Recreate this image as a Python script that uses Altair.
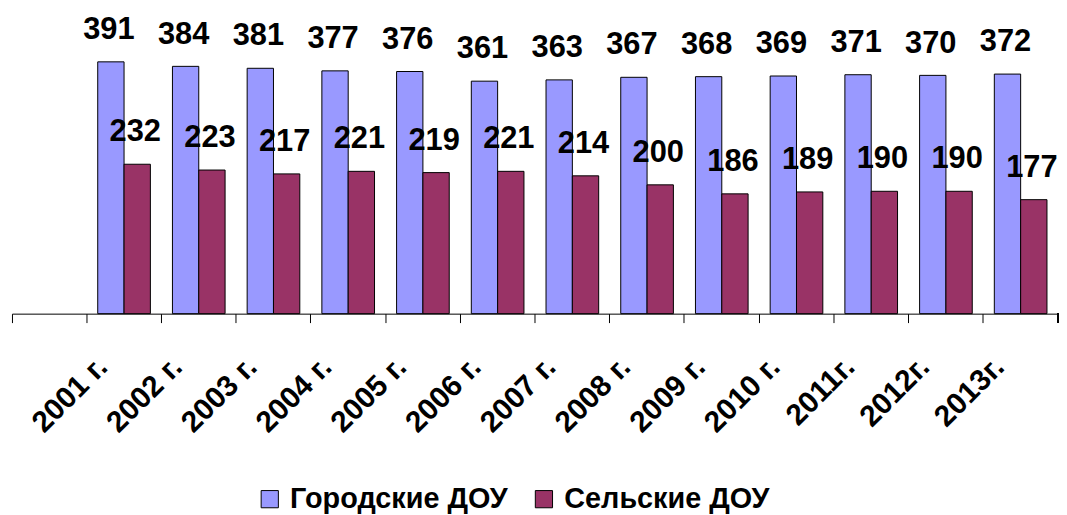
import altair as alt
import pandas as pd

years = ["2001 г.", "2002 г.", "2003 г.", "2004 г.", "2005 г.", "2006 г.", "2007 г.",
         "2008 г.", "2009 г.", "2010 г.", "2011г.", "2012г.", "2013г."]
urban = [391, 384, 381, 377, 376, 361, 363, 367, 368, 369, 371, 370, 372]
rural = [232, 223, 217, 221, 219, 221, 214, 200, 186, 189, 190, 190, 177]
series = ["Городские ДОУ", "Сельские ДОУ"]
colors = ["#9999FF", "#993366"]

rows = []
for y, u, r in zip(years, urban, rural):
    rows.append({"year": y, "series": series[0], "value": u})
    rows.append({"year": y, "series": series[1], "value": r})
df = pd.DataFrame(rows)

W, H = 1053, 306
FONT = "Liberation Sans"
domain = [" "] + years

x = alt.X("year:N", scale=alt.Scale(domain=domain, paddingInner=0, paddingOuter=0),
          sort=domain,
          axis=alt.Axis(title=None, bandPosition=0, labelAngle=-45, labelAlign="right",
                        labelBaseline="alphabetic", labelOffset=-15, labelPadding=46,
                        labelFont=FONT, labelFontSize=30, labelFontWeight="bold",
                        labelColor="black", labelLimit=400, tickSize=9, tickColor="black",
                        domainColor="black", tickWidth=1, domainWidth=1, grid=False,
                        labelOverlap=False))
xo = alt.XOffset("series:N", scale=alt.Scale(domain=series, paddingOuter=0.419, paddingInner=0))
y = alt.Y("value:Q", scale=alt.Scale(domain=[0, 472], nice=False), axis=None)

base = alt.Chart(df).encode(x=x, xOffset=xo, y=y)

bars = base.mark_bar(stroke="black", strokeWidth=1).encode(
    color=alt.Color("series:N", scale=alt.Scale(domain=series, range=colors),
                    legend=alt.Legend(title=None, orient="none", legendX=245, legendY=478,
                                      direction="horizontal", symbolType="square",
                                      symbolSize=300, symbolStrokeColor="black",
                                      symbolStrokeWidth=1, labelFont=FONT, labelFontSize=29,
                                      labelFontWeight="bold", labelColor="black",
                                      labelLimit=500, labelOffset=6, columnPadding=22,
                                      padding=0))
)

labels = base.mark_text(font=FONT, fontSize=31, fontWeight="bold", color="black",
                        baseline="alphabetic", dy=-23, dx=-2).encode(text="value:Q")

endtick = alt.Chart(df).mark_rule(color="black", strokeWidth=1).encode(
    x=alt.value(W), y=alt.value(H), y2=alt.value(H + 9))

chart = alt.layer(bars, labels, endtick).properties(
    width=W, height=H, padding={"left": 3, "top": 0, "right": 0, "bottom": 0}
).configure_view(stroke=None)

chart.save("out.html", embed_options={"renderer": "svg", "actions": False})
